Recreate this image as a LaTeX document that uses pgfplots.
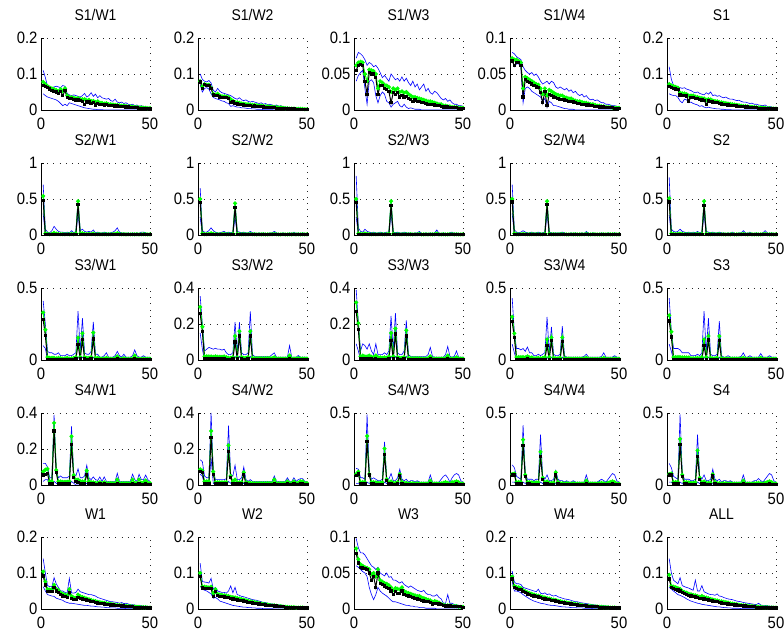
\documentclass[border=0pt]{standalone}
\usepackage{fontspec}
\setmainfont{Liberation Sans}[FakeStretch=0.9]
\usepackage{pgfplots}
\usepackage{pgfplotstable}
\pgfplotsset{compat=1.18}
\pgfplotsset{
 panel/.style={
  scale only axis, width=109pt, height=72pt, anchor=south west,
  xmin=0, xmax=50, ymin=0, xtick={0,50},
  axis x line*=bottom, axis y line*=left, axis line style={-, black, line width=0.7pt},
  tick align=inside, major tick length=3pt, tick style={black, line width=0.5pt},
  grid=major, grid style={black!85, line width=0.6pt, dash pattern=on 0.8pt off 5.4pt},
  ticklabel style={font=\fontsize{16.5}{16.5}\selectfont},
  xticklabel style={yshift=-4pt},
  scaled ticks=false, /pgf/number format/fixed, /pgf/number format/precision=2,
  /pgf/number format/assume math mode=true,
  title style={at={(0.5,1)}, anchor=base, yshift=11pt, font=\fontsize{15.5}{15.5}\selectfont},
 },
 bl/.style={color=blue, line width=0.6pt, mark=none},
 gr/.style={color=green, line width=1pt, mark=*, mark size=1.5pt, mark options={solid, fill=green}},
 bk/.style={color=black, line width=1pt, mark=square*, mark size=1.15pt, mark options={solid, fill=black}},
}
\newcommand{\panel}[6]{%
 \begin{axis}[panel, at={(#1pt,#2pt)}, title={#3}, ymax=#4, ytick={#5}]
 \addplot[bl] table[x expr=\coordindex+1, y index=0] {#6};
 \addplot[bl] table[x expr=\coordindex+1, y index=1] {#6};
 \addplot[gr] table[x expr=\coordindex+1, y index=2] {#6};
 \addplot[bk] table[x expr=\coordindex+1, y index=3] {#6};
 \end{axis}}
\begin{document}
% columns: lo hi mean median
\pgfplotstableread[header=false]{
0.045 0.11 0.078 0.068
0.040 0.090 0.072 0.066
0.036 0.066 0.066 0.062
0.034 0.064 0.062 0.058
0.032 0.062 0.060 0.055
0.030 0.064 0.058 0.052
0.028 0.066 0.055 0.050
0.024 0.064 0.052 0.046
0.018 0.062 0.058 0.052
0.012 0.068 0.052 0.040
0.016 0.066 0.060 0.054
0.012 0.046 0.040 0.034
0.020 0.042 0.036 0.032
0.018 0.040 0.035 0.031
0.016 0.042 0.034 0.030
0.014 0.040 0.032 0.028
0.012 0.038 0.033 0.028
0.010 0.036 0.030 0.026
0.008 0.040 0.030 0.024
0.006 0.046 0.030 0.016
0.005 0.036 0.027 0.022
0.004 0.040 0.028 0.022
0.003 0.048 0.025 0.018
0.002 0.038 0.025 0.020
0.002 0.044 0.022 0.014
0.001 0.034 0.024 0.019
0.001 0.040 0.020 0.016
0.001 0.034 0.020 0.016
0 0.032 0.018 0.014
0 0.030 0.019 0.015
0 0.032 0.016 0.013
0 0.026 0.016 0.012
0 0.024 0.015 0.012
0 0.030 0.014 0.011
0 0.022 0.014 0.011
0 0.020 0.013 0.010
0 0.022 0.012 0.009
0 0.018 0.012 0.009
0 0.020 0.011 0.008
0 0.016 0.010 0.008
0 0.014 0.010 0.007
0 0.016 0.009 0.007
0 0.012 0.008 0.006
0 0.014 0.008 0.006
0 0.010 0.007 0.005
0 0.012 0.007 0.005
0 0.010 0.006 0.004
0 0.008 0.006 0.004
0 0.008 0.005 0.004
0 0.006 0.005 0.003
}\dataA
\pgfplotstableread[header=false]{
0.070 0.100 0.080 0.078
0.050 0.085 0.065 0.060
0.060 0.080 0.072 0.070
0.062 0.078 0.070 0.068
0.058 0.082 0.070 0.068
0.045 0.075 0.062 0.060
0.035 0.055 0.045 0.042
0.032 0.050 0.042 0.040
0.030 0.060 0.045 0.040
0.028 0.052 0.040 0.036
0.025 0.048 0.038 0.035
0.024 0.046 0.038 0.034
0.020 0.044 0.037 0.034
0.018 0.042 0.036 0.032
0.010 0.040 0.030 0.020
0.012 0.036 0.026 0.022
0.010 0.032 0.022 0.018
0.008 0.030 0.021 0.017
0.008 0.034 0.020 0.015
0.006 0.028 0.018 0.015
0.006 0.026 0.017 0.014
0.005 0.028 0.016 0.012
0.004 0.024 0.016 0.013
0.004 0.022 0.015 0.012
0.003 0.024 0.014 0.010
0.003 0.022 0.014 0.011
0.002 0.020 0.013 0.010
0.002 0.018 0.012 0.009
0.002 0.020 0.012 0.009
0.001 0.016 0.011 0.008
0.001 0.018 0.010 0.007
0.001 0.014 0.010 0.007
0.001 0.016 0.009 0.007
0.001 0.014 0.009 0.006
0 0.012 0.008 0.006
0 0.014 0.008 0.005
0 0.010 0.007 0.005
0 0.012 0.007 0.005
0 0.009 0.006 0.004
0 0.008 0.005 0.004
0 0.008 0.005 0.003
0 0.007 0.004 0.003
0 0.006 0.004 0.003
0 0.006 0.004 0.003
0 0.005 0.003 0.002
0 0.006 0.003 0.002
0 0.005 0.003 0.002
0 0.004 0.003 0.002
0 0.004 0.002 0.002
0 0.003 0.002 0.002
}\dataB
\pgfplotstableread[header=false]{
0.040 0.072 0.062 0.055
0.048 0.080 0.066 0.062
0.052 0.078 0.067 0.063
0.055 0.075 0.066 0.062
0.030 0.070 0.050 0.040
0.008 0.062 0.040 0.022
0.040 0.066 0.056 0.052
0.042 0.064 0.055 0.050
0.038 0.060 0.054 0.050
0.020 0.062 0.050 0.045
0.010 0.058 0.030 0.022
0.020 0.052 0.040 0.034
0.025 0.045 0.038 0.034
0.022 0.048 0.035 0.030
0.012 0.044 0.034 0.028
0.010 0.040 0.032 0.026
0.004 0.050 0.025 0.010
0.008 0.046 0.030 0.024
0.010 0.042 0.028 0.022
0.012 0.044 0.030 0.024
0.006 0.040 0.025 0.018
0.004 0.046 0.026 0.020
0.008 0.040 0.024 0.018
0.004 0.044 0.025 0.019
0.002 0.038 0.022 0.016
0.003 0.034 0.020 0.015
0.002 0.040 0.018 0.012
0.001 0.032 0.018 0.014
0.001 0.036 0.017 0.012
0.001 0.028 0.016 0.012
0 0.032 0.015 0.010
0 0.036 0.014 0.010
0 0.026 0.013 0.009
0 0.030 0.012 0.008
0 0.024 0.012 0.008
0 0.022 0.011 0.008
0 0.026 0.010 0.007
0 0.024 0.009 0.006
0 0.020 0.008 0.006
0 0.016 0.008 0.005
0 0.014 0.006 0.004
0 0.016 0.006 0.004
0 0.012 0.005 0.004
0 0.014 0.005 0.003
0 0.010 0.004 0.003
0 0.008 0.004 0.003
0 0.008 0.004 0.003
0 0.006 0.003 0.002
0 0.006 0.003 0.002
0 0.005 0.003 0.002
}\dataC
\pgfplotstableread[header=false]{
0.070 0.080 0.072 0.068
0.060 0.078 0.070 0.062
0.064 0.074 0.070 0.066
0.064 0.072 0.068 0.066
0.060 0.070 0.066 0.062
0.010 0.060 0.030 0.018
0.030 0.055 0.046 0.042
0.032 0.052 0.044 0.040
0.030 0.050 0.042 0.038
0.026 0.052 0.040 0.036
0.024 0.048 0.038 0.034
0.022 0.050 0.036 0.032
0.020 0.046 0.035 0.031
0.018 0.040 0.030 0.024
0.012 0.036 0.022 0.010
0.016 0.038 0.030 0.026
0.004 0.040 0.020 0.006
0.012 0.036 0.028 0.022
0.010 0.040 0.026 0.020
0.006 0.038 0.024 0.018
0.006 0.032 0.022 0.017
0.005 0.030 0.021 0.016
0.004 0.032 0.020 0.015
0.003 0.030 0.020 0.015
0.002 0.028 0.018 0.014
0.002 0.030 0.017 0.013
0.001 0.026 0.016 0.012
0.001 0.028 0.016 0.012
0.001 0.024 0.014 0.011
0 0.026 0.013 0.010
0 0.022 0.012 0.009
0 0.020 0.012 0.009
0 0.022 0.011 0.008
0 0.018 0.010 0.008
0 0.020 0.010 0.007
0 0.016 0.009 0.007
0 0.014 0.008 0.006
0 0.015 0.008 0.006
0 0.013 0.007 0.005
0 0.014 0.006 0.005
0 0.012 0.006 0.004
0 0.010 0.005 0.004
0 0.010 0.005 0.004
0 0.008 0.004 0.003
0 0.008 0.004 0.003
0 0.007 0.004 0.003
0 0.006 0.003 0.003
0 0.006 0.003 0.002
0 0.005 0.003 0.002
0 0.005 0.003 0.002
}\dataD
\pgfplotstableread[header=false]{
0.045 0.120 0.072 0.065
0.042 0.085 0.068 0.062
0.040 0.068 0.066 0.060
0.040 0.066 0.064 0.058
0.035 0.064 0.062 0.056
0.025 0.062 0.048 0.042
0.020 0.060 0.046 0.040
0.030 0.062 0.046 0.041
0.028 0.058 0.044 0.039
0.020 0.056 0.040 0.025
0.022 0.054 0.040 0.035
0.018 0.050 0.040 0.034
0.016 0.048 0.037 0.032
0.014 0.050 0.036 0.031
0.010 0.046 0.034 0.029
0.012 0.044 0.033 0.028
0.008 0.042 0.032 0.027
0.006 0.048 0.028 0.016
0.008 0.044 0.030 0.025
0.006 0.050 0.029 0.024
0.005 0.040 0.026 0.022
0.004 0.042 0.025 0.021
0.003 0.038 0.024 0.020
0.003 0.040 0.022 0.018
0.002 0.036 0.021 0.017
0.002 0.034 0.020 0.016
0.001 0.036 0.019 0.015
0.001 0.032 0.018 0.014
0.001 0.030 0.017 0.013
0 0.030 0.016 0.012
0 0.028 0.015 0.012
0 0.026 0.014 0.011
0 0.027 0.013 0.010
0 0.024 0.012 0.009
0 0.022 0.011 0.009
0 0.022 0.011 0.008
0 0.020 0.010 0.008
0 0.018 0.009 0.007
0 0.019 0.009 0.007
0 0.016 0.008 0.006
0 0.016 0.008 0.006
0 0.014 0.007 0.005
0 0.013 0.007 0.005
0 0.012 0.006 0.005
0 0.014 0.006 0.004
0 0.010 0.005 0.004
0 0.010 0.005 0.004
0 0.008 0.004 0.003
0 0.007 0.004 0.003
0 0.006 0.004 0.003
}\dataE
% ---------- S2 row ----------
\pgfplotstableread[header=false]{
0.30 0.70 0.54 0.48
0 0.08 0.02 0.005
0 0.04 0.015 0.005
0 0.03 0.01 0.004
0 0.06 0.015 0.004
0 0.12 0.03 0.005
0 0.08 0.02 0.004
0 0.05 0.015 0.004
0 0.04 0.012 0.004
0 0.04 0.012 0.003
0 0.03 0.01 0.003
0 0.04 0.012 0.003
0 0.03 0.01 0.003
0 0.06 0.015 0.004
0 0.03 0.01 0.003
0 0.05 0.02 0.005
0.30 0.48 0.47 0.42
0 0.06 0.02 0.005
0 0.08 0.025 0.005
0 0.05 0.015 0.004
0 0.04 0.012 0.003
0 0.05 0.015 0.003
0 0.04 0.012 0.003
0 0.07 0.02 0.004
0 0.03 0.01 0.003
0 0.04 0.012 0.003
0 0.03 0.01 0.002
0 0.03 0.01 0.002
0 0.04 0.012 0.003
0 0.03 0.01 0.002
0 0.03 0.01 0.002
0 0.03 0.01 0.002
0 0.04 0.012 0.003
0 0.06 0.015 0.003
0 0.10 0.025 0.005
0 0.04 0.012 0.003
0 0.03 0.01 0.002
0 0.03 0.01 0.002
0 0.02 0.008 0.002
0 0.03 0.01 0.002
0 0.02 0.008 0.002
0 0.03 0.01 0.002
0 0.02 0.008 0.002
0 0.03 0.01 0.002
0 0.02 0.008 0.002
0 0.04 0.01 0.002
0 0.04 0.012 0.003
0 0.03 0.01 0.002
0 0.02 0.008 0.002
0 0.02 0.008 0.002
}\dataF
\pgfplotstableread[header=false]{
0.25 0.65 0.50 0.45
0 0.06 0.02 0.005
0 0.04 0.012 0.004
0 0.04 0.012 0.004
0 0.06 0.015 0.004
0 0.10 0.025 0.005
0 0.06 0.015 0.004
0 0.04 0.012 0.003
0 0.03 0.01 0.003
0 0.03 0.01 0.003
0 0.04 0.012 0.003
0 0.05 0.015 0.003
0 0.03 0.01 0.003
0 0.04 0.012 0.003
0 0.03 0.01 0.003
0 0.04 0.015 0.004
0.25 0.45 0.44 0.38
0 0.05 0.015 0.004
0 0.04 0.012 0.003
0 0.03 0.01 0.003
0 0.04 0.012 0.003
0 0.03 0.01 0.003
0 0.03 0.01 0.003
0 0.05 0.015 0.003
0 0.03 0.01 0.003
0 0.03 0.01 0.002
0 0.02 0.008 0.002
0 0.03 0.01 0.002
0 0.02 0.008 0.002
0 0.03 0.01 0.002
0 0.02 0.008 0.002
0 0.02 0.008 0.002
0 0.03 0.01 0.002
0 0.03 0.01 0.002
0 0.05 0.015 0.003
0 0.03 0.01 0.002
0 0.02 0.008 0.002
0 0.02 0.008 0.002
0 0.03 0.01 0.002
0 0.02 0.008 0.002
0 0.02 0.008 0.002
0 0.03 0.01 0.002
0 0.02 0.008 0.002
0 0.04 0.012 0.003
0 0.02 0.008 0.002
0 0.03 0.01 0.002
0 0.02 0.008 0.002
0 0.03 0.01 0.002
0 0.02 0.008 0.002
0 0.02 0.008 0.002
}\dataG
\pgfplotstableread[header=false]{
0.25 0.82 0.50 0.45
0 0.10 0.02 0.005
0 0.05 0.015 0.004
0 0.04 0.012 0.004
0 0.08 0.02 0.004
0 0.05 0.015 0.004
0 0.04 0.012 0.003
0 0.03 0.01 0.003
0 0.04 0.012 0.003
0 0.03 0.01 0.003
0 0.03 0.01 0.003
0 0.04 0.012 0.003
0 0.03 0.01 0.003
0 0.03 0.01 0.003
0 0.04 0.012 0.003
0 0.04 0.015 0.004
0.30 0.48 0.47 0.41
0 0.04 0.015 0.004
0 0.03 0.01 0.003
0 0.04 0.012 0.003
0 0.03 0.01 0.003
0 0.03 0.01 0.003
0 0.04 0.012 0.003
0 0.03 0.01 0.003
0 0.03 0.01 0.002
0 0.03 0.01 0.002
0 0.02 0.008 0.002
0 0.03 0.01 0.002
0 0.03 0.01 0.002
0 0.05 0.015 0.003
0 0.02 0.008 0.002
0 0.02 0.008 0.002
0 0.03 0.01 0.002
0 0.02 0.008 0.002
0 0.03 0.01 0.002
0 0.02 0.008 0.002
0 0.03 0.01 0.002
0 0.07 0.02 0.003
0 0.02 0.008 0.002
0 0.02 0.008 0.002
0 0.03 0.01 0.002
0 0.02 0.008 0.002
0 0.02 0.008 0.002
0 0.03 0.01 0.002
0 0.04 0.012 0.003
0 0.02 0.008 0.002
0 0.03 0.01 0.002
0 0.02 0.008 0.002
0 0.02 0.008 0.002
0 0.02 0.008 0.002
}\dataH
\pgfplotstableread[header=false]{
0.30 0.70 0.50 0.46
0 0.07 0.02 0.005
0 0.04 0.012 0.004
0 0.03 0.01 0.004
0 0.04 0.012 0.004
0 0.06 0.015 0.004
0 0.04 0.012 0.003
0 0.03 0.01 0.003
0 0.03 0.01 0.003
0 0.04 0.012 0.003
0 0.03 0.01 0.003
0 0.03 0.01 0.003
0 0.04 0.012 0.003
0 0.03 0.01 0.003
0 0.03 0.01 0.003
0 0.04 0.015 0.004
0.30 0.47 0.47 0.42
0 0.04 0.015 0.004
0 0.03 0.01 0.003
0 0.03 0.01 0.003
0 0.03 0.01 0.003
0 0.03 0.01 0.003
0 0.03 0.01 0.003
0 0.04 0.012 0.003
0 0.03 0.01 0.003
0 0.02 0.008 0.002
0 0.02 0.008 0.002
0 0.03 0.01 0.002
0 0.02 0.008 0.002
0 0.03 0.01 0.002
0 0.02 0.008 0.002
0 0.02 0.008 0.002
0 0.03 0.01 0.002
0 0.02 0.008 0.002
0 0.05 0.015 0.003
0 0.02 0.008 0.002
0 0.02 0.008 0.002
0 0.03 0.01 0.002
0 0.02 0.008 0.002
0 0.02 0.008 0.002
0 0.02 0.008 0.002
0 0.03 0.01 0.002
0 0.02 0.008 0.002
0 0.02 0.008 0.002
0 0.03 0.01 0.002
0 0.02 0.008 0.002
0 0.02 0.008 0.002
0 0.03 0.01 0.002
0 0.02 0.008 0.002
0 0.02 0.008 0.002
}\dataI
\pgfplotstableread[header=false]{
0.28 0.80 0.51 0.46
0 0.08 0.02 0.005
0 0.05 0.015 0.004
0 0.04 0.012 0.004
0 0.05 0.015 0.004
0 0.08 0.02 0.005
0 0.05 0.015 0.004
0 0.04 0.012 0.003
0 0.03 0.01 0.003
0 0.04 0.012 0.003
0 0.03 0.01 0.003
0 0.04 0.012 0.003
0 0.03 0.01 0.003
0 0.05 0.015 0.004
0 0.03 0.01 0.003
0 0.04 0.015 0.004
0.30 0.47 0.47 0.41
0 0.05 0.015 0.004
0 0.04 0.012 0.003
0 0.03 0.01 0.003
0 0.04 0.012 0.003
0 0.03 0.01 0.003
0 0.03 0.01 0.003
0 0.04 0.012 0.003
0 0.03 0.01 0.003
0 0.03 0.01 0.002
0 0.02 0.008 0.002
0 0.03 0.01 0.002
0 0.02 0.008 0.002
0 0.04 0.012 0.002
0 0.02 0.008 0.002
0 0.02 0.008 0.002
0 0.03 0.01 0.002
0 0.03 0.01 0.002
0 0.06 0.015 0.003
0 0.03 0.01 0.002
0 0.02 0.008 0.002
0 0.04 0.012 0.002
0 0.02 0.008 0.002
0 0.02 0.008 0.002
0 0.03 0.01 0.002
0 0.02 0.008 0.002
0 0.02 0.008 0.002
0 0.03 0.01 0.002
0 0.06 0.015 0.003
0 0.03 0.01 0.002
0 0.02 0.008 0.002
0 0.03 0.01 0.002
0 0.02 0.008 0.002
0 0.02 0.008 0.002
}\dataJ
% ---------- S3 row ----------
\pgfplotstableread[header=false]{
0.10 0.41 0.33 0.28
0.08 0.25 0.21 0.17
0 0.06 0.02 0.005
0 0.05 0.015 0.005
0 0.05 0.015 0.005
0 0.04 0.015 0.005
0 0.04 0.012 0.004
0 0.05 0.015 0.005
0 0.03 0.012 0.004
0 0.03 0.01 0.004
0 0.03 0.012 0.004
0 0.04 0.015 0.005
0 0.03 0.01 0.004
0 0.03 0.012 0.004
0 0.04 0.015 0.005
0 0.05 0.02 0.006
0.02 0.34 0.155 0.11
0 0.06 0.02 0.006
0.02 0.29 0.185 0.14
0 0.05 0.02 0.006
0 0.04 0.015 0.005
0 0.04 0.015 0.005
0 0.06 0.02 0.006
0.02 0.265 0.19 0.145
0 0.04 0.015 0.005
0 0.04 0.015 0.005
0 0.02 0.01 0.003
0 0.02 0.01 0.003
0 0.03 0.01 0.003
0 0.05 0.015 0.004
0 0.02 0.01 0.003
0 0.02 0.008 0.003
0 0.02 0.008 0.003
0 0.03 0.01 0.003
0 0.06 0.025 0.006
0 0.03 0.01 0.003
0 0.02 0.008 0.003
0 0.04 0.012 0.003
0 0.02 0.008 0.003
0 0.02 0.008 0.002
0 0.02 0.008 0.002
0 0.03 0.01 0.003
0 0.07 0.03 0.006
0 0.03 0.01 0.003
0 0.02 0.008 0.002
0 0.02 0.008 0.002
0 0.03 0.01 0.003
0 0.02 0.008 0.002
0 0.02 0.008 0.002
0 0.02 0.008 0.002
}\dataK
\pgfplotstableread[header=false]{
0.15 0.355 0.295 0.26
0.06 0.20 0.185 0.157
0 0.05 0.02 0.005
0 0.06 0.02 0.005
0 0.07 0.02 0.006
0 0.065 0.02 0.006
0 0.06 0.018 0.005
0 0.065 0.02 0.006
0 0.06 0.018 0.005
0 0.06 0.018 0.005
0 0.055 0.018 0.005
0 0.06 0.02 0.005
0 0.04 0.015 0.004
0 0.03 0.012 0.004
0 0.03 0.012 0.004
0 0.04 0.015 0.005
0.02 0.21 0.133 0.10
0 0.04 0.015 0.005
0.02 0.21 0.16 0.133
0 0.04 0.015 0.005
0 0.03 0.012 0.004
0 0.03 0.012 0.004
0 0.04 0.015 0.005
0.02 0.27 0.16 0.133
0 0.03 0.012 0.004
0 0.02 0.01 0.003
0 0.02 0.01 0.003
0 0.02 0.01 0.003
0 0.02 0.01 0.003
0 0.02 0.01 0.003
0 0.02 0.01 0.003
0 0.02 0.01 0.003
0 0.02 0.01 0.003
0 0.03 0.01 0.003
0 0.04 0.015 0.004
0 0.015 0.008 0.002
0 0.015 0.008 0.002
0 0.015 0.008 0.002
0 0.015 0.008 0.002
0 0.015 0.008 0.002
0 0.015 0.008 0.002
0 0.08 0.025 0.005
0 0.015 0.008 0.002
0 0.015 0.008 0.002
0 0.015 0.008 0.002
0 0.025 0.01 0.003
0 0.015 0.008 0.002
0 0.015 0.008 0.002
0 0.015 0.008 0.002
0 0.015 0.008 0.002
}\dataL
\pgfplotstableread[header=false]{
0.09 0.39 0.32 0.27
0.05 0.21 0.205 0.17
0 0.05 0.02 0.005
0 0.09 0.025 0.006
0 0.08 0.02 0.005
0 0.06 0.02 0.005
0 0.09 0.025 0.006
0 0.05 0.018 0.005
0 0.03 0.015 0.004
0 0.09 0.025 0.006
0 0.03 0.015 0.004
0 0.03 0.015 0.004
0 0.03 0.012 0.004
0 0.04 0.015 0.004
0 0.03 0.012 0.004
0 0.05 0.02 0.005
0.02 0.245 0.15 0.11
0 0.05 0.02 0.005
0.02 0.26 0.175 0.145
0 0.04 0.015 0.005
0 0.03 0.012 0.004
0 0.03 0.012 0.004
0 0.05 0.015 0.005
0.02 0.22 0.165 0.133
0 0.03 0.012 0.004
0 0.02 0.01 0.003
0 0.02 0.01 0.003
0 0.02 0.01 0.003
0 0.02 0.01 0.003
0 0.02 0.01 0.003
0 0.02 0.008 0.003
0 0.02 0.008 0.003
0 0.02 0.008 0.003
0 0.03 0.01 0.003
0 0.07 0.02 0.005
0 0.02 0.008 0.003
0 0.015 0.008 0.002
0 0.015 0.008 0.002
0 0.015 0.008 0.002
0 0.015 0.008 0.002
0 0.015 0.008 0.002
0 0.03 0.01 0.003
0 0.075 0.025 0.005
0 0.02 0.008 0.002
0 0.015 0.008 0.002
0 0.02 0.008 0.002
0 0.05 0.015 0.003
0 0.015 0.008 0.002
0 0.015 0.008 0.002
0 0.015 0.008 0.002
}\dataM
\pgfplotstableread[header=false]{
0.11 0.43 0.30 0.265
0.05 0.19 0.185 0.157
0 0.08 0.02 0.005
0 0.08 0.02 0.005
0 0.07 0.02 0.005
0 0.08 0.02 0.005
0 0.06 0.018 0.005
0 0.09 0.025 0.006
0 0.05 0.018 0.005
0 0.05 0.018 0.005
0 0.03 0.012 0.004
0 0.03 0.012 0.004
0 0.04 0.015 0.004
0 0.03 0.012 0.004
0 0.04 0.015 0.004
0 0.05 0.02 0.005
0.02 0.30 0.143 0.10
0 0.05 0.02 0.005
0.02 0.23 0.157 0.133
0 0.04 0.015 0.005
0 0.03 0.012 0.004
0 0.03 0.012 0.004
0 0.04 0.015 0.005
0.02 0.235 0.157 0.127
0 0.03 0.012 0.004
0 0.02 0.01 0.003
0 0.02 0.01 0.003
0 0.02 0.01 0.003
0 0.02 0.01 0.003
0 0.02 0.01 0.003
0 0.02 0.01 0.003
0 0.02 0.01 0.003
0 0.02 0.01 0.003
0 0.025 0.01 0.003
0 0.04 0.015 0.004
0 0.02 0.01 0.003
0 0.02 0.008 0.002
0 0.02 0.008 0.002
0 0.02 0.008 0.002
0 0.02 0.008 0.002
0 0.02 0.008 0.002
0 0.025 0.01 0.003
0 0.05 0.015 0.004
0 0.02 0.008 0.002
0 0.02 0.008 0.002
0 0.02 0.008 0.002
0 0.02 0.008 0.002
0 0.03 0.01 0.003
0 0.02 0.008 0.002
0 0.02 0.008 0.002
}\dataN
\pgfplotstableread[header=false]{
0.11 0.43 0.31 0.27
0.06 0.20 0.196 0.16
0 0.08 0.02 0.005
0 0.08 0.02 0.005
0 0.08 0.02 0.005
0 0.07 0.02 0.005
0 0.05 0.018 0.005
0 0.05 0.018 0.005
0 0.05 0.018 0.005
0 0.05 0.018 0.005
0 0.03 0.012 0.004
0 0.03 0.012 0.004
0 0.03 0.012 0.004
0 0.04 0.015 0.004
0 0.03 0.012 0.004
0 0.05 0.02 0.005
0.02 0.34 0.143 0.10
0 0.05 0.02 0.005
0.02 0.29 0.166 0.138
0 0.04 0.015 0.005
0 0.03 0.012 0.004
0 0.03 0.012 0.004
0 0.04 0.015 0.005
0.02 0.27 0.166 0.134
0 0.03 0.012 0.004
0 0.02 0.01 0.003
0 0.02 0.01 0.003
0 0.03 0.01 0.003
0 0.02 0.01 0.003
0 0.02 0.01 0.003
0 0.02 0.01 0.003
0 0.02 0.01 0.003
0 0.02 0.01 0.003
0 0.025 0.01 0.003
0 0.05 0.015 0.004
0 0.02 0.01 0.003
0 0.02 0.008 0.002
0 0.03 0.01 0.003
0 0.02 0.008 0.002
0 0.02 0.008 0.002
0 0.02 0.008 0.002
0 0.02 0.008 0.002
0 0.045 0.015 0.004
0 0.02 0.008 0.002
0 0.02 0.008 0.002
0 0.02 0.008 0.002
0 0.03 0.01 0.003
0 0.02 0.008 0.002
0 0.02 0.008 0.002
0 0.02 0.008 0.002
}\dataO
% ---------- S4 row ----------
\pgfplotstableread[header=false]{
0.02 0.12 0.074 0.055
0.03 0.12 0.085 0.06
0.03 0.10 0.09 0.062
0 0.04 0.02 0.01
0 0.04 0.02 0.01
0.02 0.39 0.345 0.30
0.01 0.08 0.083 0.07
0 0.04 0.02 0.006
0 0.05 0.02 0.006
0 0.04 0.018 0.005
0 0.04 0.018 0.005
0 0.04 0.018 0.005
0 0.05 0.02 0.006
0.02 0.325 0.27 0.225
0.01 0.06 0.055 0.04
0 0.05 0.03 0.02
0 0.09 0.03 0.015
0 0.04 0.02 0.006
0 0.04 0.02 0.006
0 0.05 0.02 0.008
0.01 0.11 0.08 0.06
0 0.04 0.02 0.006
0 0.03 0.015 0.005
0 0.045 0.015 0.005
0 0.03 0.012 0.004
0 0.025 0.012 0.004
0 0.045 0.015 0.005
0 0.02 0.01 0.004
0 0.045 0.015 0.005
0 0.02 0.01 0.004
0 0.02 0.01 0.003
0 0.02 0.01 0.003
0 0.02 0.01 0.003
0 0.02 0.01 0.003
0 0.065 0.03 0.01
0 0.02 0.01 0.003
0 0.02 0.01 0.003
0 0.02 0.01 0.003
0 0.02 0.01 0.003
0 0.02 0.01 0.003
0 0.02 0.01 0.003
0 0.06 0.03 0.01
0 0.03 0.012 0.004
0 0.02 0.01 0.003
0 0.06 0.03 0.01
0 0.03 0.012 0.004
0 0.03 0.015 0.004
0 0.055 0.025 0.008
0 0.03 0.012 0.004
0 0.02 0.01 0.003
}\dataP
\pgfplotstableread[header=false]{
0.06 0.14 0.087 0.074
0.05 0.13 0.08 0.07
0 0.05 0.02 0.01
0 0.04 0.02 0.01
0 0.04 0.02 0.01
0.15 0.40 0.30 0.265
0.01 0.08 0.074 0.06
0 0.03 0.015 0.008
0 0.03 0.015 0.008
0 0.03 0.015 0.008
0 0.03 0.015 0.008
0 0.03 0.015 0.008
0 0.035 0.015 0.008
0.02 0.33 0.22 0.185
0.01 0.06 0.05 0.04
0 0.05 0.02 0.01
0 0.11 0.03 0.01
0 0.03 0.015 0.006
0 0.03 0.015 0.006
0 0.04 0.015 0.006
0.01 0.10 0.07 0.06
0 0.03 0.015 0.005
0 0.02 0.012 0.004
0 0.03 0.012 0.004
0 0.02 0.01 0.003
0 0.02 0.01 0.003
0 0.02 0.01 0.003
0 0.02 0.01 0.003
0 0.02 0.01 0.003
0 0.02 0.01 0.003
0 0.02 0.01 0.003
0 0.02 0.01 0.003
0 0.02 0.01 0.003
0 0.02 0.01 0.003
0 0.05 0.03 0.01
0 0.02 0.01 0.003
0 0.02 0.01 0.003
0 0.02 0.01 0.003
0 0.02 0.01 0.003
0 0.02 0.01 0.003
0 0.04 0.02 0.005
0 0.02 0.01 0.003
0 0.02 0.01 0.003
0 0.04 0.02 0.005
0 0.02 0.01 0.003
0 0.03 0.012 0.004
0 0.035 0.02 0.005
0 0.035 0.02 0.005
0 0.02 0.01 0.003
0 0.02 0.01 0.003
}\dataQ
\pgfplotstableread[header=false]{
0.01 0.115 0.076 0.064
0.01 0.11 0.092 0.076
0 0.05 0.02 0.01
0 0.05 0.02 0.008
0 0.04 0.02 0.008
0.02 0.49 0.34 0.30
0.01 0.09 0.076 0.07
0 0.04 0.02 0.006
0 0.05 0.02 0.006
0 0.04 0.018 0.005
0 0.03 0.015 0.005
0 0.03 0.015 0.005
0 0.04 0.018 0.005
0.02 0.30 0.253 0.214
0.01 0.05 0.04 0.03
0 0.04 0.02 0.01
0 0.08 0.025 0.008
0 0.03 0.015 0.005
0 0.03 0.015 0.005
0 0.05 0.02 0.006
0.01 0.11 0.076 0.064
0 0.04 0.02 0.006
0 0.03 0.012 0.004
0 0.04 0.015 0.004
0 0.02 0.01 0.003
0 0.03 0.012 0.004
0 0.03 0.012 0.004
0 0.02 0.01 0.003
0 0.03 0.012 0.004
0 0.02 0.01 0.003
0 0.02 0.01 0.003
0 0.02 0.01 0.003
0 0.02 0.01 0.003
0 0.02 0.01 0.003
0 0.07 0.03 0.01
0 0.02 0.01 0.003
0 0.02 0.01 0.003
0 0.02 0.01 0.003
0 0.02 0.01 0.003
0 0.04 0.012 0.004
0 0.06 0.015 0.004
0 0.07 0.02 0.005
0 0.05 0.015 0.004
0 0.02 0.01 0.003
0 0.05 0.02 0.004
0 0.07 0.02 0.005
0 0.08 0.025 0.006
0 0.07 0.02 0.005
0 0.03 0.01 0.003
0 0.02 0.01 0.003
}\dataR
\pgfplotstableread[header=false]{
0.02 0.14 0.076 0.07
0.02 0.12 0.08 0.07
0 0.06 0.02 0.01
0 0.05 0.02 0.01
0 0.04 0.02 0.008
0.02 0.415 0.315 0.276
0.01 0.08 0.07 0.06
0 0.04 0.02 0.006
0 0.04 0.02 0.006
0 0.04 0.018 0.005
0 0.03 0.015 0.005
0 0.04 0.018 0.005
0 0.04 0.018 0.005
0.02 0.35 0.23 0.196
0.01 0.06 0.05 0.04
0 0.04 0.02 0.01
0 0.07 0.025 0.008
0 0.03 0.015 0.005
0 0.03 0.015 0.005
0 0.04 0.015 0.005
0.01 0.10 0.088 0.07
0 0.04 0.02 0.006
0 0.03 0.012 0.004
0 0.03 0.012 0.004
0 0.02 0.01 0.003
0 0.03 0.012 0.004
0 0.02 0.01 0.003
0 0.02 0.01 0.003
0 0.03 0.012 0.004
0 0.02 0.01 0.003
0 0.02 0.01 0.003
0 0.02 0.01 0.003
0 0.02 0.01 0.003
0 0.02 0.01 0.003
0 0.07 0.03 0.01
0 0.02 0.01 0.003
0 0.02 0.01 0.003
0 0.02 0.01 0.003
0 0.02 0.01 0.003
0 0.02 0.01 0.003
0 0.03 0.012 0.004
0 0.04 0.015 0.004
0 0.03 0.012 0.004
0 0.02 0.01 0.003
0 0.04 0.015 0.004
0 0.06 0.02 0.005
0 0.08 0.025 0.006
0 0.07 0.02 0.005
0 0.03 0.01 0.003
0 0.02 0.01 0.003
}\dataS
\pgfplotstableread[header=false]{
0.02 0.15 0.076 0.07
0.02 0.12 0.08 0.07
0 0.06 0.02 0.01
0 0.05 0.02 0.01
0 0.04 0.02 0.008
0.02 0.49 0.32 0.28
0.01 0.08 0.07 0.06
0 0.04 0.02 0.006
0 0.04 0.02 0.006
0 0.04 0.018 0.005
0 0.03 0.015 0.005
0 0.03 0.015 0.005
0 0.04 0.018 0.005
0.02 0.35 0.24 0.20
0.01 0.06 0.05 0.04
0 0.04 0.02 0.01
0 0.07 0.025 0.008
0 0.03 0.015 0.005
0 0.03 0.015 0.005
0 0.04 0.015 0.005
0.01 0.11 0.074 0.062
0 0.04 0.02 0.006
0 0.03 0.012 0.004
0 0.04 0.012 0.004
0 0.02 0.01 0.003
0 0.03 0.012 0.004
0 0.03 0.012 0.004
0 0.02 0.01 0.003
0 0.03 0.012 0.004
0 0.02 0.01 0.003
0 0.02 0.01 0.003
0 0.02 0.01 0.003
0 0.02 0.01 0.003
0 0.02 0.01 0.003
0 0.07 0.03 0.01
0 0.02 0.01 0.003
0 0.02 0.01 0.003
0 0.02 0.01 0.003
0 0.02 0.01 0.003
0 0.03 0.012 0.004
0 0.03 0.012 0.004
0 0.045 0.015 0.004
0 0.03 0.012 0.004
0 0.02 0.01 0.003
0 0.04 0.015 0.004
0 0.06 0.02 0.005
0 0.08 0.025 0.006
0 0.07 0.02 0.005
0 0.03 0.01 0.003
0 0.02 0.01 0.003
}\dataT
% ---------- W row ----------
\pgfplotstableread[header=false]{
0.062 0.14 0.104 0.092
0.05 0.10 0.076 0.067
0.04 0.065 0.055 0.049
0.038 0.062 0.054 0.048
0.036 0.062 0.055 0.049
0.035 0.087 0.067 0.06
0.03 0.07 0.056 0.05
0.028 0.06 0.052 0.046
0.026 0.05 0.045 0.04
0.024 0.05 0.042 0.036
0.02 0.046 0.04 0.034
0.018 0.044 0.038 0.032
0.016 0.085 0.055 0.045
0.016 0.045 0.036 0.03
0.015 0.044 0.032 0.027
0.014 0.046 0.031 0.026
0.013 0.055 0.04 0.032
0.012 0.048 0.035 0.029
0.011 0.046 0.033 0.028
0.01 0.044 0.031 0.026
0.01 0.042 0.029 0.025
0.009 0.04 0.027 0.023
0.008 0.04 0.025 0.021
0.008 0.038 0.023 0.02
0.007 0.036 0.022 0.018
0.006 0.032 0.02 0.017
0.006 0.03 0.019 0.016
0.005 0.028 0.018 0.015
0.005 0.026 0.017 0.014
0.004 0.024 0.016 0.013
0.004 0.022 0.015 0.012
0.003 0.02 0.014 0.011
0.003 0.02 0.013 0.011
0.003 0.019 0.012 0.01
0.002 0.018 0.011 0.009
0.002 0.016 0.011 0.009
0.002 0.018 0.01 0.008
0.002 0.015 0.009 0.008
0.001 0.016 0.009 0.007
0.001 0.014 0.008 0.007
0.001 0.012 0.008 0.006
0.001 0.012 0.007 0.006
0.001 0.011 0.007 0.005
0.001 0.01 0.006 0.005
0.001 0.01 0.006 0.005
0.001 0.009 0.005 0.004
0.001 0.008 0.005 0.004
0.001 0.008 0.005 0.004
0.001 0.007 0.004 0.003
0.001 0.006 0.004 0.003
}\dataU
\pgfplotstableread[header=false]{
0.064 0.127 0.10 0.09
0.055 0.076 0.062 0.058
0.052 0.075 0.062 0.057
0.05 0.074 0.061 0.057
0.046 0.072 0.06 0.056
0.042 0.085 0.062 0.056
0.03 0.055 0.044 0.035
0.032 0.06 0.055 0.048
0.028 0.05 0.042 0.037
0.022 0.048 0.04 0.035
0.02 0.046 0.039 0.034
0.018 0.046 0.038 0.033
0.016 0.044 0.037 0.032
0.014 0.05 0.036 0.031
0.012 0.064 0.034 0.029
0.01 0.045 0.033 0.028
0.009 0.06 0.032 0.027
0.008 0.04 0.03 0.025
0.007 0.038 0.029 0.024
0.006 0.035 0.027 0.023
0.005 0.034 0.026 0.022
0.005 0.032 0.024 0.02
0.004 0.03 0.023 0.019
0.004 0.028 0.021 0.018
0.003 0.026 0.02 0.017
0.003 0.025 0.019 0.016
0.002 0.024 0.018 0.015
0.002 0.022 0.016 0.014
0.002 0.02 0.015 0.013
0.001 0.018 0.014 0.012
0.001 0.018 0.013 0.011
0.001 0.016 0.012 0.01
0.001 0.015 0.011 0.009
0.001 0.014 0.01 0.009
0 0.013 0.01 0.008
0 0.012 0.009 0.008
0 0.012 0.008 0.007
0 0.011 0.008 0.007
0 0.01 0.007 0.006
0 0.009 0.006 0.005
0 0.008 0.006 0.005
0 0.008 0.005 0.004
0 0.007 0.005 0.004
0 0.007 0.005 0.004
0 0.006 0.004 0.004
0 0.006 0.004 0.003
0 0.006 0.004 0.003
0 0.005 0.004 0.003
0 0.005 0.003 0.003
0 0.004 0.003 0.003
}\dataV
\pgfplotstableread[header=false]{
0.06 0.098 0.084 0.077
0.058 0.085 0.069 0.064
0.055 0.078 0.062 0.058
0.052 0.078 0.06 0.057
0.05 0.075 0.058 0.056
0.045 0.07 0.057 0.055
0.03 0.065 0.055 0.05
0.02 0.06 0.048 0.04
0.013 0.058 0.05 0.045
0.02 0.055 0.045 0.03
0.03 0.058 0.055 0.05
0.025 0.05 0.04 0.035
0.022 0.048 0.038 0.034
0.02 0.046 0.036 0.032
0.018 0.05 0.035 0.03
0.015 0.044 0.033 0.028
0.012 0.045 0.03 0.025
0.01 0.04 0.026 0.02
0.01 0.04 0.029 0.024
0.009 0.038 0.028 0.022
0.008 0.036 0.027 0.022
0.007 0.038 0.03 0.025
0.006 0.034 0.025 0.02
0.005 0.032 0.023 0.019
0.005 0.03 0.022 0.018
0.004 0.032 0.021 0.017
0.004 0.03 0.02 0.016
0.003 0.028 0.019 0.015
0.003 0.026 0.018 0.014
0.002 0.025 0.018 0.013
0.002 0.024 0.016 0.012
0.002 0.026 0.015 0.011
0.001 0.022 0.014 0.01
0.001 0.02 0.013 0.01
0.001 0.02 0.012 0.009
0.001 0.018 0.01 0.007
0.001 0.018 0.011 0.008
0 0.02 0.01 0.008
0 0.016 0.009 0.007
0 0.014 0.007 0.006
0 0.008 0.006 0.005
0 0.008 0.005 0.004
0 0.02 0.005 0.004
0 0.008 0.005 0.004
0 0.008 0.004 0.003
0 0.006 0.004 0.003
0 0.006 0.004 0.003
0 0.005 0.003 0.003
0 0.005 0.003 0.003
0 0.004 0.003 0.002
}\dataW
\pgfplotstableread[header=false]{
0.076 0.105 0.09 0.083
0.05 0.075 0.064 0.06
0.05 0.07 0.061 0.056
0.048 0.07 0.06 0.055
0.045 0.068 0.058 0.054
0.04 0.06 0.052 0.048
0.036 0.058 0.049 0.045
0.032 0.056 0.046 0.042
0.028 0.054 0.044 0.04
0.025 0.052 0.042 0.038
0.022 0.05 0.04 0.036
0.02 0.048 0.038 0.034
0.018 0.055 0.037 0.033
0.016 0.044 0.035 0.031
0.015 0.042 0.033 0.029
0.014 0.045 0.032 0.028
0.012 0.04 0.03 0.027
0.011 0.042 0.029 0.026
0.01 0.038 0.027 0.024
0.01 0.036 0.026 0.023
0.009 0.038 0.025 0.022
0.008 0.034 0.023 0.02
0.007 0.032 0.022 0.019
0.006 0.03 0.02 0.018
0.006 0.028 0.019 0.017
0.005 0.027 0.018 0.016
0.005 0.026 0.017 0.015
0.004 0.024 0.016 0.014
0.004 0.022 0.015 0.013
0.004 0.02 0.014 0.012
0.003 0.02 0.013 0.011
0.003 0.018 0.012 0.01
0.003 0.017 0.011 0.009
0.002 0.016 0.01 0.009
0.002 0.015 0.009 0.008
0.002 0.014 0.009 0.007
0.002 0.013 0.008 0.007
0.001 0.012 0.008 0.006
0.001 0.011 0.007 0.006
0.001 0.01 0.007 0.006
0.001 0.01 0.006 0.005
0.001 0.009 0.006 0.005
0.001 0.009 0.005 0.004
0.001 0.008 0.005 0.004
0 0.008 0.005 0.004
0 0.007 0.004 0.003
0 0.007 0.004 0.003
0 0.006 0.004 0.003
0 0.006 0.003 0.003
0 0.005 0.003 0.003
}\dataX
\pgfplotstableread[header=false]{
0.06 0.14 0.095 0.083
0.055 0.10 0.064 0.06
0.05 0.08 0.062 0.057
0.045 0.075 0.06 0.055
0.04 0.07 0.058 0.053
0.038 0.087 0.056 0.05
0.035 0.065 0.05 0.046
0.032 0.062 0.047 0.043
0.028 0.06 0.045 0.04
0.025 0.058 0.042 0.038
0.022 0.055 0.041 0.036
0.02 0.052 0.039 0.034
0.018 0.08 0.038 0.033
0.016 0.05 0.036 0.031
0.015 0.05 0.034 0.03
0.013 0.065 0.036 0.03
0.012 0.048 0.033 0.028
0.011 0.045 0.032 0.026
0.01 0.042 0.03 0.025
0.009 0.04 0.028 0.024
0.008 0.04 0.026 0.022
0.007 0.038 0.025 0.021
0.006 0.042 0.024 0.02
0.006 0.036 0.022 0.019
0.005 0.035 0.021 0.017
0.004 0.032 0.02 0.016
0.004 0.03 0.019 0.015
0.003 0.028 0.018 0.014
0.003 0.027 0.016 0.013
0.002 0.026 0.015 0.012
0.002 0.024 0.014 0.011
0.002 0.022 0.013 0.011
0.002 0.021 0.012 0.01
0.001 0.02 0.011 0.009
0.001 0.018 0.01 0.008
0.001 0.017 0.01 0.008
0.001 0.016 0.009 0.007
0.001 0.015 0.008 0.007
0.001 0.014 0.008 0.006
0.001 0.013 0.007 0.006
0 0.012 0.007 0.005
0 0.016 0.006 0.005
0 0.011 0.006 0.005
0 0.01 0.005 0.004
0 0.01 0.005 0.004
0 0.009 0.005 0.004
0 0.008 0.004 0.003
0 0.008 0.004 0.003
0 0.007 0.004 0.003
0 0.007 0.004 0.003
}\dataY
\begin{tikzpicture}
\path[use as bounding box] (0pt,0pt) rectangle (784pt,631pt);
\panel{41}{521}{S1/W1}{0.2}{0,0.1,0.2}{\dataA}
\panel{198}{521}{S1/W2}{0.2}{0,0.1,0.2}{\dataB}
\panel{354}{521}{S1/W3}{0.1}{0,0.05,0.1}{\dataC}
\panel{510}{521}{S1/W4}{0.1}{0,0.05,0.1}{\dataD}
\panel{667}{521}{S1}{0.2}{0,0.1,0.2}{\dataE}
\panel{41}{396}{S2/W1}{1}{0,0.5,1}{\dataF}
\panel{198}{396}{S2/W2}{1}{0,0.5,1}{\dataG}
\panel{354}{396}{S2/W3}{1}{0,0.5,1}{\dataH}
\panel{510}{396}{S2/W4}{1}{0,0.5,1}{\dataI}
\panel{667}{396}{S2}{1}{0,0.5,1}{\dataJ}
\panel{41}{271}{S3/W1}{0.5}{0,0.5}{\dataK}
\panel{198}{271}{S3/W2}{0.4}{0,0.2,0.4}{\dataL}
\panel{354}{271}{S3/W3}{0.4}{0,0.2,0.4}{\dataM}
\panel{510}{271}{S3/W4}{0.5}{0,0.5}{\dataN}
\panel{667}{271}{S3}{0.5}{0,0.5}{\dataO}
\panel{41}{146}{S4/W1}{0.4}{0,0.2,0.4}{\dataP}
\panel{198}{146}{S4/W2}{0.4}{0,0.2,0.4}{\dataQ}
\panel{354}{146}{S4/W3}{0.5}{0,0.5}{\dataR}
\panel{510}{146}{S4/W4}{0.5}{0,0.5}{\dataS}
\panel{667}{146}{S4}{0.5}{0,0.5}{\dataT}
\panel{41}{22}{W1}{0.2}{0,0.1,0.2}{\dataU}
\panel{198}{22}{W2}{0.2}{0,0.1,0.2}{\dataV}
\panel{354}{22}{W3}{0.1}{0,0.05,0.1}{\dataW}
\panel{510}{22}{W4}{0.2}{0,0.1,0.2}{\dataX}
\panel{667}{22}{ALL}{0.2}{0,0.1,0.2}{\dataY}
\end{tikzpicture}
\end{document}
